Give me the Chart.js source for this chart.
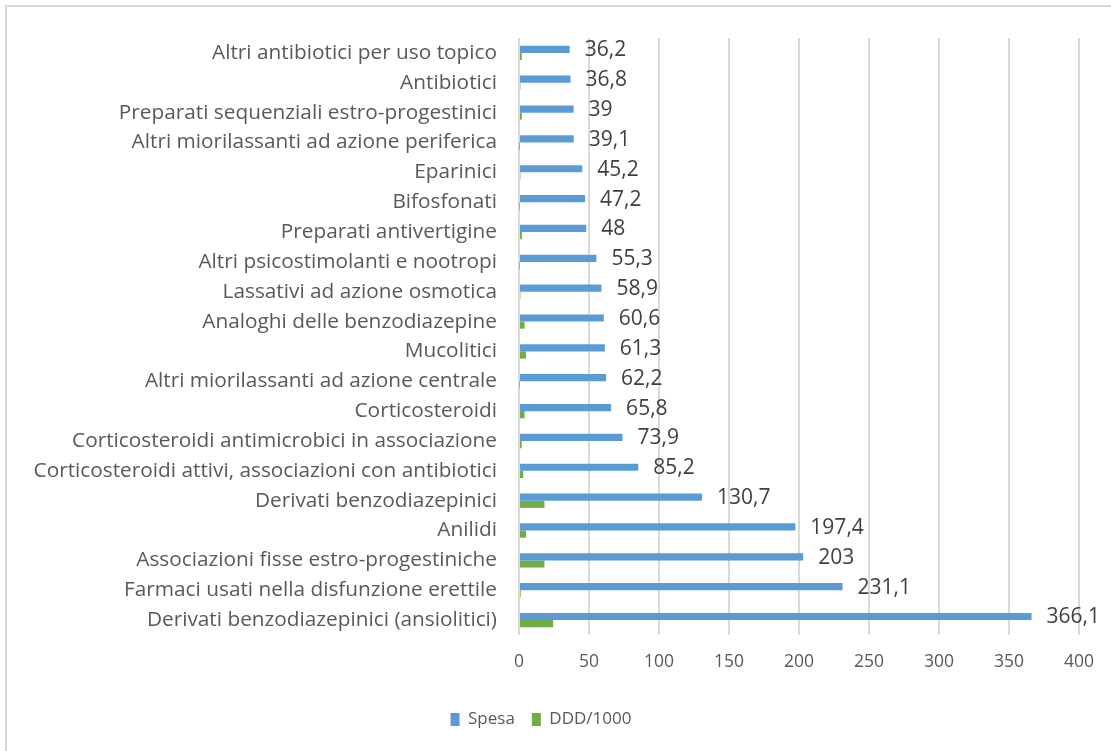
<!DOCTYPE html>
<html>
<head>
<meta charset="utf-8">
<script src="https://cdn.jsdelivr.net/npm/chart.js@4.4.1/dist/chart.umd.min.js"></script>
<style>
  html, body { margin: 0; padding: 0; background: #fff; }
  #wrap { position: relative; width: 1111px; height: 751px; overflow: hidden; }
  #frame { position: absolute; left: 5px; top: 5px; width: 1200px; height: 900px; border-left: 2px solid #d9d9d9; border-top: 2px solid #d9d9d9; box-sizing: border-box; }
  canvas { position: absolute; left: 0; top: 0; }
</style>
</head>
<body>
<div id="wrap">
  <div id="frame"></div>
  <canvas id="c" width="1111" height="751"></canvas>
</div>
<script>
const categories = [
  "Altri antibiotici per uso topico",
  "Antibiotici",
  "Preparati sequenziali estro-progestinici",
  "Altri miorilassanti ad azione periferica",
  "Eparinici",
  "Bifosfonati",
  "Preparati antivertigine",
  "Altri psicostimolanti e nootropi",
  "Lassativi ad azione osmotica",
  "Analoghi delle benzodiazepine",
  "Mucolitici",
  "Altri miorilassanti ad azione centrale",
  "Corticosteroidi",
  "Corticosteroidi antimicrobici in associazione",
  "Corticosteroidi attivi, associazioni con antibiotici",
  "Derivati benzodiazepinici",
  "Anilidi",
  "Associazioni fisse estro-progestiniche",
  "Farmaci usati nella disfunzione erettile",
  "Derivati benzodiazepinici (ansiolitici)"
];
const spesa = [36.2, 36.8, 39, 39.1, 45.2, 47.2, 48, 55.3, 58.9, 60.6, 61.3, 62.2, 65.8, 73.9, 85.2, 130.7, 197.4, 203, 231.1, 366.1];
const ddd = [2, 1, 2, 0.2, 1, 0.3, 2, 0.3, 1, 4, 5, 0.3, 4, 1.9, 3, 18.2, 5, 18.2, 1.2, 24.4];
const xTicks = [0, 50, 100, 150, 200, 250, 300, 350, 400];

const FONT = "'Open Sans', sans-serif";
const TXT = '#595959';

const labelPlugin = {
  id: 'valueLabels',
  afterDatasetsDraw(chart) {
    const ctx = chart.ctx;
    const meta = chart.getDatasetMeta(0);
    ctx.save();
    ctx.font = "21px " + FONT;
    ctx.fillStyle = '#404040';
    ctx.textAlign = 'left';
    ctx.textBaseline = 'middle';
    meta.data.forEach((bar, i) => {
      const v = spesa[i];
      ctx.fillText(String(v).replace('.', ','), bar.x + 15, bar.y + 1);
    });
    ctx.restore();
  }
};

new Chart(document.getElementById('c'), {
  type: 'bar',
  data: {
    labels: categories,
    datasets: [
      { label: 'Spesa', data: spesa, backgroundColor: '#5B9BD5', barPercentage: 1, categoryPercentage: 0.48 },
      { label: 'DDD/1000', data: ddd, backgroundColor: '#70AD47', barPercentage: 1, categoryPercentage: 0.48 }
    ]
  },
  options: {
    indexAxis: 'y',
    responsive: false,
    animation: false,
    devicePixelRatio: 1,
    layout: { padding: { top: 38, right: 29, bottom: 13, left: 0 } },
    plugins: {
      legend: {
        position: 'bottom',
        labels: {
          font: { family: FONT, size: 17 },
          color: TXT,
          boxWidth: 9,
          boxHeight: 13,
          padding: 17
        }
      },
      tooltip: { enabled: false }
    },
    scales: {
      x: {
        min: 0, max: 400,
        afterBuildTicks(scale) { scale.ticks = xTicks.map(v => ({ value: v })); },
        afterFit(scale) { scale.height += 4; },
        grid: { color: '#d9d9d9', lineWidth: 2, drawTicks: false },
        border: { display: false },
        ticks: { color: TXT, font: { family: FONT, size: 17.5 }, padding: 17 }
      },
      y: {
        grid: { display: false },
        border: { display: false },
        ticks: { color: TXT, font: { family: FONT, size: 20.8 }, padding: 14, autoSkip: false },
        afterFit(scale) { scale.width = 519; }
      }
    }
  },
  plugins: [labelPlugin]
});
</script>
</body>
</html>
